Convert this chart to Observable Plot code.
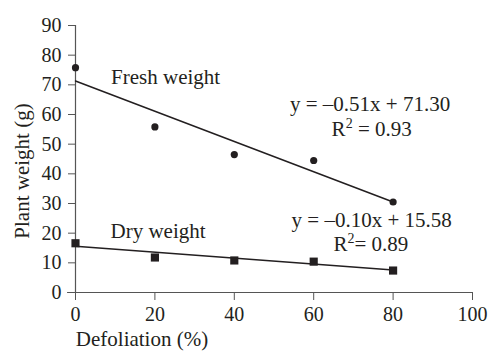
<!DOCTYPE html>
<html>
<head>
<meta charset="utf-8">
<script src="https://cdn.jsdelivr.net/npm/d3@7"></script>
<script src="https://cdn.jsdelivr.net/npm/@observablehq/plot@0.6"></script>
<style>
  html, body { margin: 0; padding: 0; background: #fff; }
</style>
</head>
<body>
<div id="chart"></div>
<script>
const defoliation = [0, 20, 40, 60, 80];
const freshWeight = [75.8, 55.8, 46.5, 44.5, 30.5];
const dryWeight = [16.6, 11.8, 10.8, 10.4, 7.4];
const fitNames = ["Fresh weight", "Dry weight"];
const fitSlope = [-0.51, -0.10];
const fitIntercept = [71.30, 15.58];
const fitRange = [0, 80];
const eqLabels = ["y = \u20130.51x + 71.30", "y = \u20130.10x + 15.58"];
const r2Values = [" = 0.93", "= 0.89"];
const xTicks = [0, 20, 40, 60, 80, 100];
const yTicks = [0, 10, 20, 30, 40, 50, 60, 70, 80, 90];

const fresh = defoliation.map((d, i) => ({x: d, y: freshWeight[i]}));
const dry = defoliation.map((d, i) => ({x: d, y: dryWeight[i]}));
const fits = fitNames.map((n, i) => fitRange.map(x => ({name: n, x, y: fitSlope[i] * x + fitIntercept[i]})));

const ink = "#231f20";
const font = "'Liberation Serif', 'Times New Roman', serif";
const fs = 21;

const chart = Plot.plot({
  width: 496,
  height: 354,
  marginLeft: 75,
  marginRight: 24,
  marginTop: 25,
  marginBottom: 62,
  style: {fontFamily: font, fontSize: "20px", color: ink, background: "#fff"},
  x: {domain: [0, 100]},
  y: {domain: [0, 90]},
  marks: [
    Plot.axisY({ticks: yTicks, tickSize: 7, tickPadding: 7, fontSize: 20, label: null, stroke: "#555"}),
    Plot.axisX({ticks: xTicks, tickSize: 8, tickPadding: 6, fontSize: 20, label: null, stroke: "#555"}),
    Plot.ruleX([0], {stroke: "#555", strokeWidth: 1.2}),
    Plot.ruleY([0], {stroke: "#555", strokeWidth: 1.2, x1: -2, x2: 100}),
    ...fits.map(f => Plot.line(f, {x: "x", y: "y", stroke: ink, strokeWidth: 1.5})),
    Plot.dot(fresh, {x: "x", y: "y", r: 3.6, fill: ink, stroke: "none"}),
    Plot.dot(dry, {x: "x", y: "y", symbol: "square", r: 4.6, fill: ink, stroke: "none"}),
    Plot.text([fitNames[0]], {x: 22.7, y: 72.6, text: d => d, fontSize: fs, fill: ink}),
    Plot.text([fitNames[1]], {x: 20.8, y: 20.8, text: d => d, fontSize: fs, fill: ink}),
    Plot.text([eqLabels[0]], {x: 74.2, y: 63.3, text: d => d, fontSize: fs, fill: ink}),
    Plot.text(["R2" + r2Values[0]], {x: 74.6, y: 55.1, text: d => d, fontSize: fs, fill: ink, className: "r2"}),
    Plot.text([eqLabels[1]], {x: 74.6, y: 24.5, text: d => d, fontSize: fs, fill: ink}),
    Plot.text(["R2" + r2Values[1]], {x: 74.4, y: 16.1, text: d => d, fontSize: fs, fill: ink, className: "r2"}),
    Plot.text(["Defoliation (%)"], {frameAnchor: "bottom", text: d => d, dy: 53, dx: -132, fontSize: fs, fill: ink}),
    Plot.text(["Plant weight (g)"], {frameAnchor: "left", textAnchor: "middle", text: d => d, rotate: -90, dx: -53, dy: 12, fontSize: fs, fill: ink})
  ]
});
document.getElementById("chart").appendChild(chart);

// superscript the "2" in R2 labels
d3.select(chart).selectAll(".r2 text").each(function() {
  const t = d3.select(this);
  const s = t.text();
  const rest = s.slice(2);
  t.text(null);
  t.append("tspan").text("R");
  t.append("tspan").attr("font-size", 14).attr("dy", -8).text("2");
  t.append("tspan").attr("font-size", fs).attr("dy", 8).text(rest);
});
</script>
</body>
</html>
